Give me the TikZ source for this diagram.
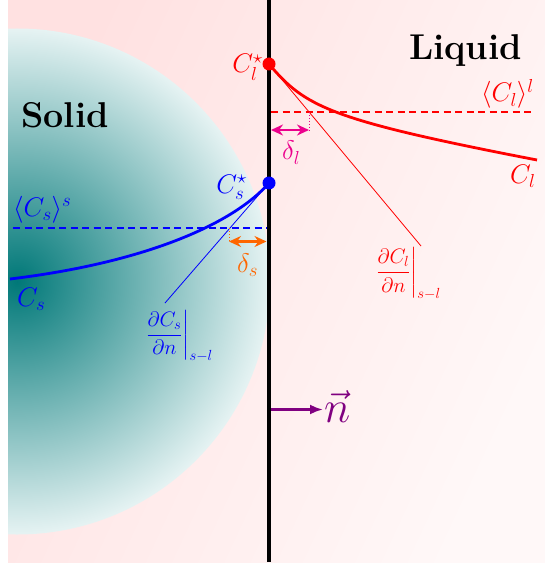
\RequirePackage{fix-cm}
\documentclass[tikz,border=0pt]{standalone}
\usepackage{amsmath}
\usetikzlibrary{arrows.meta}
\definecolor{bgA}{RGB}{255,225,225}
\definecolor{bgB}{RGB}{255,248,248}
\definecolor{tealc}{RGB}{0,120,120}
\definecolor{solidrim}{RGB}{230,243,243}
\definecolor{orangec}{RGB}{255,102,0}
\definecolor{purplec}{RGB}{128,0,128}
\pgfdeclarehorizontalshading{bgshade}{100bp}{color(0bp)=(bgA); color(25bp)=(bgA); color(75bp)=(bgB); color(100bp)=(bgB)}
\pgfdeclareradialshading{solidshade}{\pgfpoint{0bp}{0bp}}{color(0bp)=(tealc); color(25bp)=(solidrim); color(50bp)=(solidrim)}
\tikzset{
  lab/.style={inner sep=0pt, font=\fontsize{27}{32}\selectfont},
  fraclab/.style={inner sep=0pt, font=\fontsize{21}{25}\selectfont},
  phase/.style={inner sep=0pt, font=\fontsize{36}{40}\selectfont\bfseries},
  vlab/.style={inner sep=0pt, font=\fontsize{45}{50}\selectfont},
  dotn/.style={circle, inner sep=0pt, minimum size=13bp},
  profile/.style={line width=2.8bp},
  tangent/.style={line width=0.8bp},
  meanline/.style={line width=1.8bp, dash pattern=on 7bp off 4.5bp},
  deltaarrow/.style={line width=2.4bp, {Stealth[length=12bp,width=11bp]}-{Stealth[length=12bp,width=11bp]}},
  deltamark/.style={line width=0.9bp, dotted},
}
\begin{document}
\begin{tikzpicture}[x=1bp,y=-1bp]
\useasboundingbox (0,0) rectangle (545,567);
% background
\shade[shading=bgshade, shading angle=-25] (8,0) rectangle (545,562);
\begin{scope}
  \clip (8,0) rectangle (545,562);
  \shade[shading=solidshade] (17,281.5) circle[radius=253];
\end{scope}
% coordinates
\coordinate (itop) at (268.7,0);
\coordinate (ibot) at (268.7,562);
\coordinate (clp) at (269,64);
\coordinate (csp) at (269,183);
\coordinate (cle) at (537,160);
\coordinate (cse) at (10,279);
\coordinate (tl) at (421,246);
\coordinate (ts) at (165,303);
\coordinate (mla) at (271,112.3);
\coordinate (mlb) at (534,112.3);
\coordinate (msa) at (13,228.3);
\coordinate (msb) at (267,228.3);
\coordinate (dla) at (271,130);
\coordinate (dlb) at (309,130);
\coordinate (dlt) at (309,112.3);
\coordinate (dsa) at (229,241.5);
\coordinate (dsb) at (266.5,241.5);
\coordinate (dst) at (229,228.3);
\coordinate (na) at (271,409.5);
\coordinate (nb) at (323,409.5);
% mean lines
\draw[red, meanline] (mla) -- (mlb);
\draw[blue, meanline] (msa) -- (msb);
% tangents
\draw[red, tangent] (clp) -- (tl);
\draw[blue, tangent] (csp) -- (ts);
% profiles
\draw[red, profile] (clp) .. controls (305,107) and (330,120) .. (cle);
\draw[blue, profile] (csp) .. controls (235,222) and (150,262) .. (cse);
% delta marks
\draw[magenta, deltamark] (dlt) -- (dlb);
\draw[magenta, deltaarrow] (dla) -- (dlb);
\draw[orangec, deltamark] (dst) -- (dsa);
\draw[orangec, deltaarrow] (dsa) -- (dsb);
% interface
\draw[line width=4bp] (itop) -- (ibot);
% normal vector
\draw[purplec, line width=2.4bp, -{Latex[length=13bp,width=10bp]}] (na) -- (nb);
% dots
\node[dotn, fill=red] (cldot) at (clp) {};
\node[dotn, fill=blue] (csdot) at (csp) {};
% labels
\node[phase, anchor=base] (solid) at (65,128) {Solid};
\node[phase, anchor=base] (liquid) at (465.5,60) {Liquid};
\node[lab, red, anchor=base east] (clstar) at (263,73) {$C_l^\star$};
\node[lab, blue, anchor=base east] (csstar) at (247,193) {$C_s^\star$};
\node[lab, red, anchor=base west] (clmean) at (481,102) {$\langle C_l\rangle^l$};
\node[lab, blue, anchor=base west] (csmean) at (13,216) {$\langle C_s\rangle^s$};
\node[lab, red, anchor=base west] (cllab) at (510,183) {$C_l$};
\node[lab, blue, anchor=base west] (cslab) at (17,306) {$C_s$};
\node[lab, magenta, anchor=base west] (dl) at (282,160) {$\delta_l$};
\node[lab, orangec, anchor=base west] (ds) at (237,272) {$\delta_s$};
\node[fraclab, red, anchor=base west] (dcl) at (375,278) {$\left.\dfrac{\partial C_l}{\partial n}\right|_{s-l}$};
\node[fraclab, blue, anchor=base west] (dcs) at (145,340.5) {$\left.\dfrac{\partial C_s}{\partial n}\right|_{s-l}$};
\node[vlab, purplec, anchor=base west] (nvec) at (324,422) {$\vec{n}$};
\end{tikzpicture}
\end{document}
